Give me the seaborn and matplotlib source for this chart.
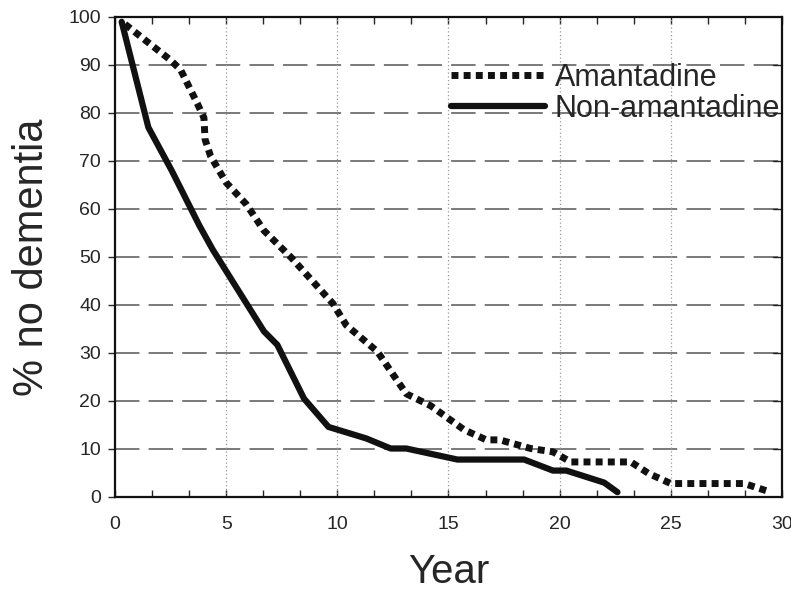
import numpy as np
import pandas as pd
import seaborn as sns
import matplotlib
matplotlib.use('Agg')
import matplotlib.pyplot as plt
from matplotlib.ticker import MultipleLocator

# values
aman_year = [0.45, 2.5, 2.95, 3.7, 4.0, 4.05, 4.3, 5.0, 5.9, 6.7, 7.9, 9.8, 10.4,
             11.8, 13.1, 14.2, 15.7, 16.7, 17.3, 18.7, 19.7, 20.5, 23.2, 24.0,
             25.0, 28.3, 29.5]
aman_pct = [98.5, 91, 89, 82, 79, 74.5, 71, 65.5, 61, 55.5, 50, 40.3, 35.8,
            30.3, 21.5, 19, 14, 11.9, 11.9, 10.1, 9.4, 7.3, 7.3, 4.9,
            2.8, 2.8, 1.0]

non_year = [0.3, 1.5, 2.55, 3.8, 4.4, 6.7, 7.3, 8.5, 9.6, 11.3, 12.4, 13.1,
            15.4, 18.4, 19.7, 20.3, 22.0, 22.6]
non_pct = [99, 77, 68, 56.5, 51.5, 34.5, 31.7, 20.5, 14.6, 12.2, 10.1, 10.1,
           7.8, 7.8, 5.5, 5.5, 3.0, 1.0]

aman = pd.DataFrame({'Year': aman_year, 'pct': aman_pct})
non = pd.DataFrame({'Year': non_year, 'pct': non_pct})

sns.set_style('white')
plt.rcParams['font.family'] = ['Liberation Sans', 'DejaVu Sans']

fig = plt.figure(figsize=(7.91, 5.92), dpi=100)
ax = fig.add_axes([0.1454, 0.1605, 0.8432, 0.8108])

# grid
for yv in range(10, 100, 10):
    ax.axhline(yv, color='#555555', lw=1.1, ls=(0, (16, 6)), zorder=1)
for xv in range(5, 30, 5):
    ax.axvline(xv, color='#999999', lw=0.9, ls=(0, (1, 2)), zorder=1)

sns.lineplot(data=aman, x='Year', y='pct', ax=ax, color='#111111', lw=5,
             label='Amantadine', zorder=3)
sns.lineplot(data=non, x='Year', y='pct', ax=ax, color='#111111', lw=4.5,
             label='Non-amantadine', zorder=3)
ax.lines[-2].set_linestyle((0, (1, 0.75)))
ax.lines[-2].set_dash_capstyle('butt')

ax.set_xlim(0, 30)
ax.set_ylim(0, 100)
ax.xaxis.set_major_locator(MultipleLocator(5))
ax.xaxis.set_minor_locator(MultipleLocator(5 / 3))
ax.yaxis.set_major_locator(MultipleLocator(10))

ax.tick_params(axis='x', which='both', direction='in', top=True, bottom=True,
               length=5, width=1, labelsize=14, pad=14)
ax.tick_params(axis='y', which='major', direction='out', left=True, right=False,
               length=5, width=1, labelsize=14, pad=5)
for yv in range(10, 100, 10):
    ax.plot([29.6, 30], [yv, yv], color='#222222', lw=1, zorder=2, clip_on=False)

for s in ax.spines.values():
    s.set_color('#111111')
    s.set_linewidth(1.6)

ax.set_xlabel('Year', fontsize=29, labelpad=14)
ax.set_ylabel('% no dementia', fontsize=30, labelpad=12)

leg = ax.legend(loc='upper right', bbox_to_anchor=(0.997, 0.905), frameon=False,
                fontsize=22, handlelength=3.1, handletextpad=0.3, labelspacing=0.03,
                borderaxespad=0, borderpad=0)

fig.savefig('out.png', dpi=100)
